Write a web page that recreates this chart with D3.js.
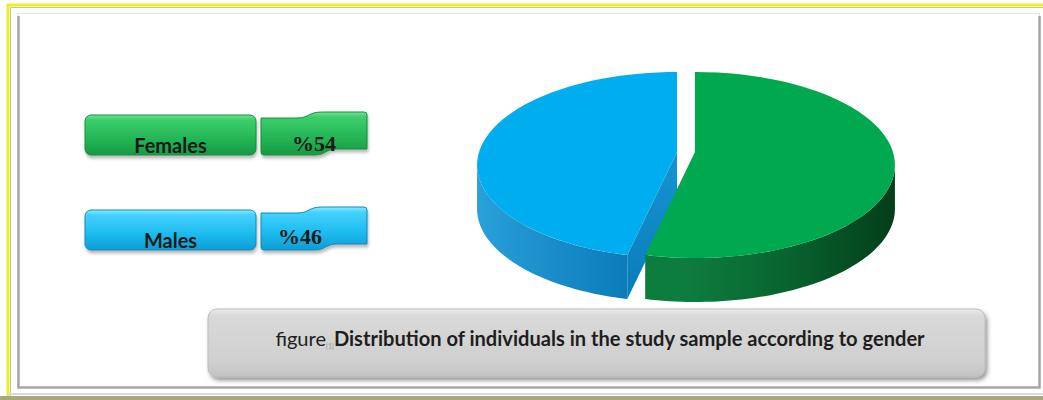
<!DOCTYPE html>
<html>
<head>
<meta charset="utf-8">
<script src="https://cdn.jsdelivr.net/npm/d3@7"></script>
<style>
  body { margin: 0; background: #fff; }
  svg { display: block; }
</style>
</head>
<body>
<div id="chart"></div>
<script>
// chart data
const genders = ["Females", "Males"];
const shares = [54, 46];
const shareLabels = ["%54", "%46"];
const captionLead = "figure";
const captionNumber = "(1)";
const captionTitle = "Distribution of individuals in the study sample according to gender";

const W = 1043, H = 400;
const svg = d3.select("#chart").append("svg")
    .attr("width", W)
    .attr("height", H);
const defs = svg.append("defs");

function linGrad(id, stops, x1, y1, x2, y2, user) {
    const g = defs.append("linearGradient").attr("id", id)
        .attr("x1", x1).attr("y1", y1).attr("x2", x2).attr("y2", y2);
    if (user) g.attr("gradientUnits", "userSpaceOnUse");
    stops.forEach(s => g.append("stop").attr("offset", s[0]).attr("stop-color", s[1]));
}

const shadow = defs.append("filter").attr("id", "shadow")
    .attr("x", "-5%").attr("y", "-20%").attr("width", "110%").attr("height", "150%");
shadow.append("feDropShadow").attr("dx", 2).attr("dy", 3).attr("stdDeviation", 2)
    .attr("flood-color", "#444").attr("flood-opacity", 0.55);

const softShadow = defs.append("filter").attr("id", "softShadow")
    .attr("x", "-5%").attr("y", "-20%").attr("width", "110%").attr("height", "160%");
softShadow.append("feDropShadow").attr("dx", 1).attr("dy", 3).attr("stdDeviation", 1.5)
    .attr("flood-color", "#666").attr("flood-opacity", 0.45);

// ---- frame ----
svg.append("rect").attr("x", 0).attr("y", 0).attr("width", W).attr("height", H).attr("fill", "#fff");
svg.append("path")
    .attr("d", `M8,${H} L8,5 L${W},5`)
    .attr("fill", "none").attr("stroke", "#eeee22").attr("stroke-width", 3);
svg.append("path")
    .attr("d", `M10.5,${H} L10.5,7.5 L${W},7.5`)
    .attr("fill", "none").attr("stroke", "#c8c8a0").attr("stroke-width", 1);
svg.append("rect").attr("x", 0).attr("y", 396).attr("width", W).attr("height", 4).attr("fill", "#a8a878");
svg.append("rect").attr("x", 8).attr("y", 393).attr("width", W).attr("height", 2).attr("fill", "#d8d8d8");

// inner panel
svg.append("rect")
    .attr("x", 17.5).attr("y", 13.5).attr("width", 1022).attr("height", 374)
    .attr("fill", "#fff").attr("stroke", "#e4e4e4");
svg.append("path")
    .attr("d", "M18.5,16 L18.5,387.5 L1039.5,387.5 L1039.5,16")
    .attr("fill", "none").attr("stroke", "#a6a6a6").attr("stroke-width", 2.5);

// ---- legend ----
const legendGrads = [
    [["0%", "#6fe496"], ["12%", "#3ccf6c"], ["60%", "#24b556"], ["100%", "#169a44"]],
    [["0%", "#8aeaff"], ["12%", "#45d2ff"], ["60%", "#1cbbee"], ["100%", "#0d9dd4"]]
];
const legendStroke = ["#13903e", "#0a8cc0"];
legendGrads.forEach((stops, i) => linGrad("leg" + i, stops, 0, 0, 0, 1));

const rowY = d3.scalePoint().domain(genders).range([115, 210]);
const boxX0 = 85, boxX1 = 256, ribX0 = 261, ribX1 = 367, boxH = 40;

function ribbonPath(x0, y0, w, h) {
    const p = d3.path();
    p.moveTo(x0, y0 + 3);
    p.lineTo(x0 + 0.34 * w, y0 + 3);
    p.bezierCurveTo(x0 + 0.46 * w, y0 + 3, x0 + 0.44 * w, y0 - 3, x0 + 0.58 * w, y0 - 3);
    p.lineTo(x0 + w - 3, y0 - 3);
    p.quadraticCurveTo(x0 + w, y0 - 3, x0 + w, y0);
    p.lineTo(x0 + w, y0 + h - 6);
    p.lineTo(x0 + 0.72 * w, y0 + h - 6);
    p.bezierCurveTo(x0 + 0.6 * w, y0 + h - 6, x0 + 0.62 * w, y0 + h, x0 + 0.5 * w, y0 + h);
    p.lineTo(x0 + 3, y0 + h);
    p.quadraticCurveTo(x0, y0 + h, x0, y0 + h - 3);
    p.closePath();
    return p.toString();
}

const legend = svg.append("g").attr("class", "legend");
genders.forEach((g, i) => {
    const y0 = rowY(g);
    const row = legend.append("g").attr("class", "legend-item");
    row.append("rect")
        .attr("x", boxX0).attr("y", y0)
        .attr("width", boxX1 - boxX0).attr("height", boxH)
        .attr("rx", 6)
        .attr("fill", `url(#leg${i})`)
        .attr("stroke", legendStroke[i])
        .attr("filter", "url(#softShadow)");
    row.append("path")
        .attr("d", ribbonPath(ribX0, y0, ribX1 - ribX0, boxH))
        .attr("fill", `url(#leg${i})`)
        .attr("stroke", legendStroke[i])
        .attr("filter", "url(#softShadow)");
    row.append("text")
        .attr("x", (boxX0 + boxX1) / 2)
        .attr("y", y0 + boxH - 2)
        .attr("text-anchor", "middle")
        .style("font-family", "Lato, 'Open Sans', sans-serif")
        .style("font-weight", 700)
        .style("font-size", "20px")
        .attr("fill", "#1a1a1a")
        .text(g);
    row.append("text")
        .attr("x", (ribX0 + ribX1) / 2 - (i === 0 ? 0 : 14))
        .attr("y", y0 + boxH - (i === 0 ? 4 : 6))
        .attr("text-anchor", "middle")
        .style("font-family", "'Liberation Serif', 'Times New Roman', serif")
        .style("font-weight", 700)
        .style("font-size", "22px")
        .attr("fill", "#1a1a1a")
        .text(shareLabels[i]);
});

// ---- 3D pie ----
const cx = 686, cy = 165, rx = 200, ry = 93, depth = 44, explode = 9, apexLift = 13;
const topColors = ["#00a84f", "#00adef"];
linGrad("wall0", [["0%", "#0d7d3d"], ["45%", "#086530"], ["100%", "#033c18"]], cx, 0, cx + rx + 15, 0, true);
linGrad("wall1", [["0%", "#2aa2da"], ["55%", "#168ac6"], ["100%", "#0a78b6"]], cx - rx - 15, 0, cx - 40, 0, true);
linGrad("cut1", [["0%", "#1594d2"], ["100%", "#0a7cba"]], 0, 0, 0, 1);

const pie = d3.pie().sort(null).value(d => d)(shares);

function pt(a, ox, dy) {
    return [ox + rx * Math.sin(a), cy - ry * Math.cos(a) + (dy || 0)];
}

const pieG = svg.append("g").attr("class", "pie");
// draw Males (left) first, then Females
[1, 0].forEach(i => {
    const s = pie[i];
    const mid = (s.startAngle + s.endAngle) / 2;
    const ox = cx + explode * Math.sin(mid);
    const apex = [ox, cy - apexLift];
    const angles = d3.range(0, 61).map(k => s.startAngle + (s.endAngle - s.startAngle) * k / 60);

    // cut face for the left slice, visible through the gap
    if (i === 1) {
        const p0 = pt(s.startAngle, ox);
        pieG.append("path")
            .attr("d", d3.line()([apex, p0, [p0[0], p0[1] + depth], [apex[0], apex[1] + depth]]) + "Z")
            .attr("fill", "url(#cut1)");
    }

    // front wall
    const a0 = Math.max(s.startAngle, Math.PI / 2);
    const a1 = Math.min(s.endAngle, 3 * Math.PI / 2);
    if (a1 > a0) {
        const wa = d3.range(0, 61).map(k => a0 + (a1 - a0) * k / 60);
        const upper = wa.map(a => pt(a, ox));
        const lower = wa.slice().reverse().map(a => pt(a, ox, depth));
        pieG.append("path")
            .attr("d", d3.line()(upper.concat(lower)) + "Z")
            .attr("fill", `url(#wall${i})`);
    }

    // top surface
    const rim = angles.map(a => pt(a, ox));
    pieG.append("path")
        .attr("d", d3.line()([apex].concat(rim)) + "Z")
        .attr("fill", topColors[i]);
});

// ---- caption ----
linGrad("cap", [["0%", "#ececec"], ["10%", "#d9d9d9"], ["80%", "#cfcfcf"], ["100%", "#c2c2c2"]], 0, 0, 0, 1);
svg.append("rect")
    .attr("x", 208).attr("y", 309).attr("width", 777).attr("height", 68)
    .attr("rx", 9)
    .attr("fill", "url(#cap)")
    .attr("stroke", "#bdbdbd")
    .attr("filter", "url(#shadow)");

const caption = svg.append("text")
    .attr("x", 600).attr("y", 346)
    .attr("text-anchor", "middle")
    .style("font-family", "Lato, 'Open Sans', sans-serif")
    .style("font-size", "17px")
    .attr("fill", "#1e1e1e");
caption.append("tspan").text(captionLead);
caption.append("tspan").style("font-size", "7px").attr("fill", "#999").attr("dy", 3).text(captionNumber);
caption.append("tspan").style("font-weight", 700).attr("dy", -3).text(captionTitle);

// fit caption to the box width seen in the figure
const capW = caption.node().getComputedTextLength();
const targetW = 651;
const fs = 17 * targetW / capW;
caption.style("font-size", fs.toFixed(2) + "px");
</script>
</body>
</html>
